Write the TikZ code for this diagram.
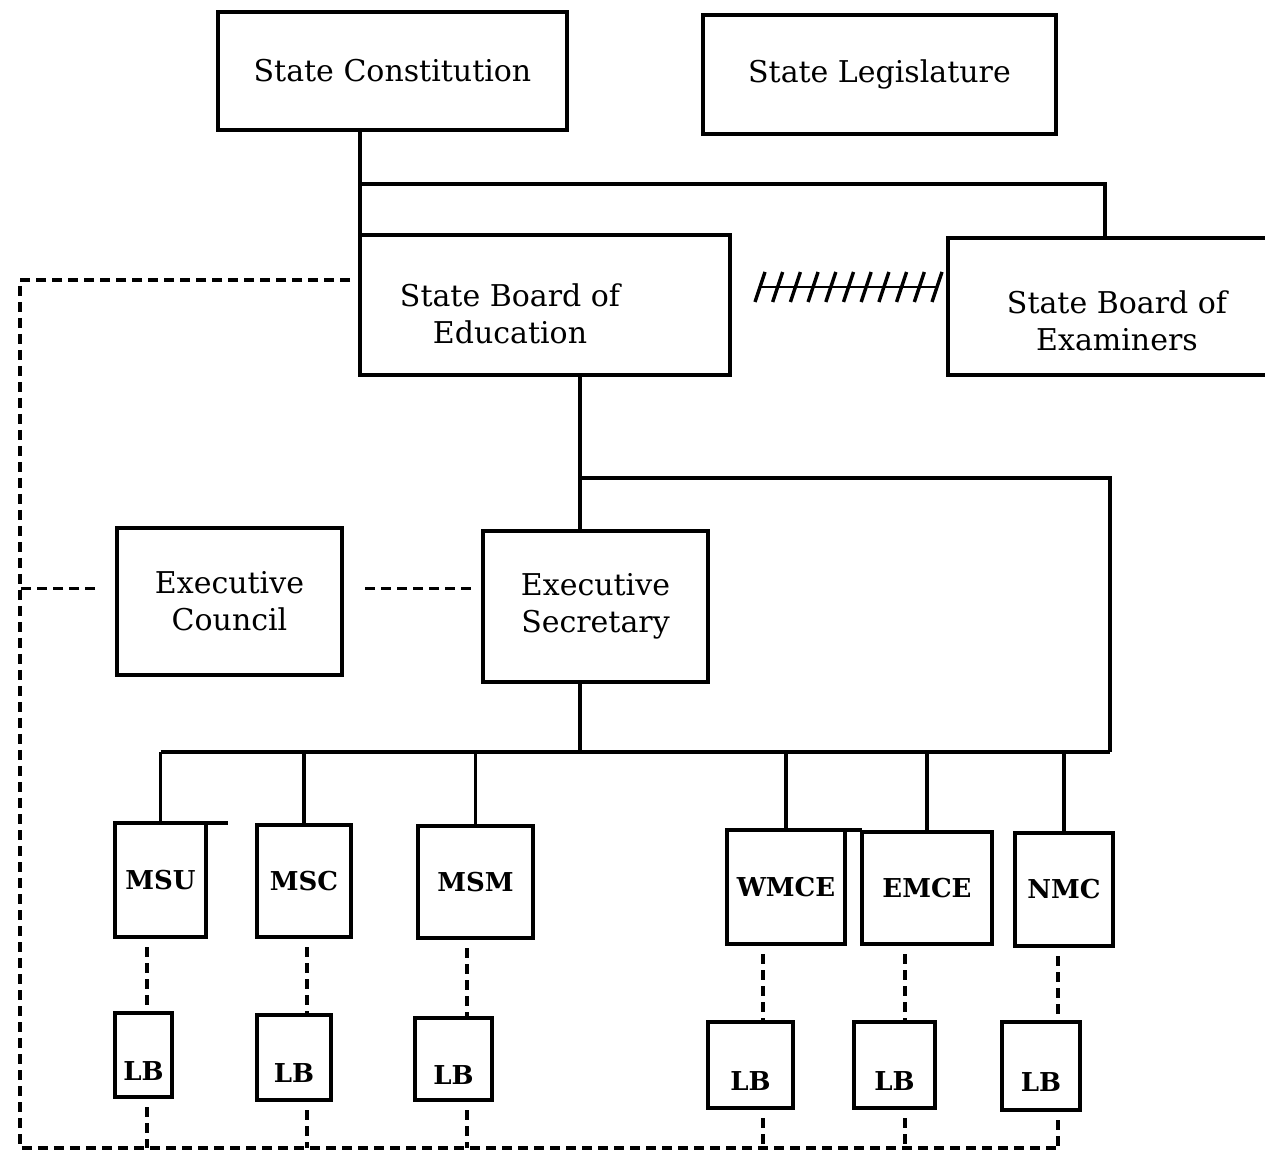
\documentclass[tikz,border=0pt]{standalone}
\usepackage{fontspec}
\setmainfont{DejaVu Serif}
\usetikzlibrary{calc}
\usetikzlibrary{positioning}

\tikzset{
 unit/.style={draw, line width=1.7pt, inner sep=0pt, outer sep=0pt, align=center, font=\fontsize{15}{18.5}\selectfont},
 sub/.style={draw, line width=1.7pt, inner sep=0pt, outer sep=0pt, font=\fontsize{13}{15}\selectfont\bfseries},
 lbbox/.style={sub, text height=25pt, text depth=0pt},
 link/.style={line width=1.7pt},
 dashlink/.style={line width=1.7pt, dash pattern=on 5pt off 3pt},
}

\begin{document}
\begin{tikzpicture}[x=0.5pt,y=-0.5pt]
\useasboundingbox (0,0) rectangle (1265,1160);
\clip (0,0) rectangle (1265,1160);

% top level
\node[unit, minimum width=174.5pt, minimum height=59pt] (const) at (392.5,71) {State Constitution};
\node[unit, minimum width=176.5pt, minimum height=59.5pt] (legis) at (879.5,74.5) {State Legislature};
\node[unit, minimum width=185pt, minimum height=70pt,
 label={[unit, draw=none, xshift=-17.5pt, yshift=-4.5pt]center:State Board of\\Education}] (sbe) at (545,305) {};
\node[unit, minimum width=171pt, minimum height=68.5pt,
 label={[unit, draw=none, xshift=-1pt, yshift=-7pt]center:State Board of\\Examiners}] (sbexam) at (1119,306.5) {};
\node[unit, minimum width=112.5pt, minimum height=73.5pt] (ec) at (229.5,601.5) {Executive\\Council};
\node[unit, minimum width=112.5pt, minimum height=75.5pt] (esec) at (595.5,606.5) {Executive\\Secretary};

% institutions
\node[sub, minimum width=45.5pt, minimum height=57pt] (msu) at (160.5,880) {MSU};
\node[sub, minimum width=47pt, minimum height=56pt] (msc) at (304,881) {MSC};
\node[sub, minimum width=57.5pt, minimum height=56pt] (msm) at (475.5,882) {MSM};
\node[sub, minimum width=59pt, minimum height=57pt] (wmce) at (786,887) {WMCE};
\node[sub, minimum width=65pt, minimum height=56pt] (emce) at (927,888) {EMCE};
\node[sub, minimum width=49pt, minimum height=56.5pt] (nmc) at (1064,889.5) {NMC};

% local boards
\node[lbbox, minimum width=28.5pt, minimum height=42pt] (lb1) at (143.5,1055) {LB};
\node[lbbox, minimum width=37pt, minimum height=42.5pt] (lb2) at (294,1057.5) {LB};
\node[lbbox, minimum width=38.5pt, minimum height=41pt] (lb3) at (453.5,1059) {LB};
\node[lbbox, minimum width=42.5pt, minimum height=43pt] (lb4) at (750.5,1065) {LB};
\node[lbbox, minimum width=40.5pt, minimum height=43pt] (lb5) at (894.5,1065) {LB};
\node[lbbox, minimum width=39pt, minimum height=44pt] (lb6) at (1041,1066) {LB};

\coordinate (bus1) at (360,184);
\coordinate (trunk) at (580,478);
\coordinate (bus2r) at (1110,752);
\coordinate (corner) at (20,1148);

\draw[link] (const.south -| sbe.north west) -- (sbe.north west);
\draw[link] (bus1) -| ($(sbexam.north)+(-14,0)$);
\draw[link] (sbe.south -| trunk) -- (esec.north -| trunk);
\draw[link] (trunk) -| (bus2r);
\draw[link] (esec.south -| trunk) -- (trunk |- bus2r);
\draw[link] (msu.north |- bus2r) -- (bus2r);
\foreach \n in {msu,msc,msm,wmce,emce,nmc}
 \draw[link] (\n.north |- bus2r) -- (\n.north);
\draw[link] (msu.north east) -- +(22,0);
\draw[link] (wmce.north east) -- (wmce.north east -| emce.west);

% hatched tie
\coordinate (hl) at ($(sbe.east)+(30,-18)$);
\coordinate (hr) at ($(sbexam.west)+(-11,-19.5)$);
\draw[line width=1.2pt] (hl) -- (hr);
\foreach \i in {0,...,10}
 \draw[link] ($(hl)!\i/10!(hr)$) ++(-5,15) -- ++(10,-30);

% dashed ties
\draw[dashlink] ($(sbe.north west)+(-10,45)$) -| (corner) -- (1058,1148);
\draw[dashlink] ($(ec.west)+(-22,-13)$) -- +(-75,0);
\draw[dashlink] ($(ec.east)+(23,-13)$) -- ($(esec.west)+(-8,-18)$);
\foreach \up/\lb/\x in {msu/lb1/147, msc/lb2/307, msm/lb3/467, wmce/lb4/763, emce/lb5/905, nmc/lb6/1058} {
 \draw[dashlink] (\x,0 |- \up.south) ++(0,10) -- (\x,0 |- \lb.north);
 \draw[dashlink] (\x,0 |- \lb.south) ++(0,10) -- (\x,1148);
}
\end{tikzpicture}
\end{document}
